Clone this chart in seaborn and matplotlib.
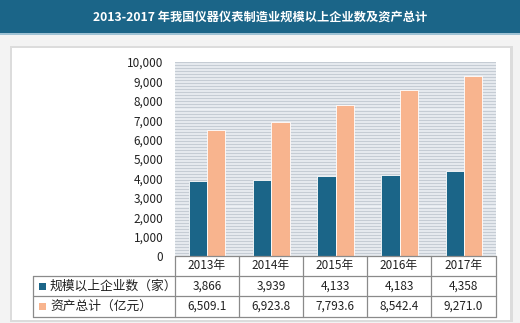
import matplotlib
matplotlib.use("Agg")
import matplotlib.pyplot as plt
import seaborn as sns
import pandas as pd
import numpy as np
from matplotlib.patches import Rectangle
from matplotlib.lines import Line2D

years = ["2013年", "2014年", "2015年", "2016年", "2017年"]
series_names = ["规模以上企业数（家）", "资产总计（亿元）"]
enterprises = [3866, 3939, 4133, 4183, 4358]
assets = [6509.1, 6923.8, 7793.6, 8542.4, 9271.0]
enterprise_labels = ["3,866", "3,939", "4,133", "4,183", "4,358"]
asset_labels = ["6,509.1", "6,923.8", "7,793.6", "8,542.4", "9,271.0"]
yticks = [0, 1000, 2000, 3000, 4000, 5000, 6000, 7000, 8000, 9000, 10000]
title = "2013-2017 年我国仪器仪表制造业规模以上企业数及资产总计"

colors = ["#1b6588", "#f8b48e"]

sns.set_theme(style="white")
plt.rcParams['font.family'] = ['Noto Sans CJK SC', 'DejaVu Sans']

W, H = 520, 323
fig = plt.figure(figsize=(W / 100, H / 100), dpi=100)
fig.patch.set_facecolor("#f3f3f3")

def fx(x):
    return x / W

def fy(y):
    return 1 - y / H

# title bar
fig.patches.append(Rectangle((0, fy(33)), 1, 33 / H, transform=fig.transFigure,
                             facecolor="#1b6588", edgecolor="none", zorder=0))
fig.patches.append(Rectangle((0, fy(35)), 1, 2 / H, transform=fig.transFigure,
                             facecolor="#9fc2d4", edgecolor="none", zorder=0))
fig.text(0.5, fy(17), title, color="white", fontsize=8.8, fontweight="bold",
         ha="center", va="center")

# panel with shadow
fig.patches.append(Rectangle((fx(10), fy(322)), fx(503), 276 / H, transform=fig.transFigure,
                             facecolor="#dcdcdc", edgecolor="none", zorder=0))
fig.patches.append(Rectangle((fx(12), fy(320)), fx(498), 272 / H, transform=fig.transFigure,
                             facecolor="white", edgecolor="none", zorder=0))

# axes
x0, x1, ytop, ybot = 175, 496, 62, 256
ax = fig.add_axes([fx(x0), fy(ybot), fx(x1 - x0), (ybot - ytop) / H])
ax.set_zorder(5)

df = pd.DataFrame({
    "year": years * 2,
    "series": [series_names[0]] * 5 + [series_names[1]] * 5,
    "value": enterprises + assets,
})
sns.barplot(data=df, x="year", y="value", hue="series", palette=colors,
            width=0.57, ax=ax, legend=False, saturation=1, zorder=3,
            edgecolor="white", linewidth=0.6)

ax.set_facecolor("#edf1f5")
for yv in np.arange(0, 10001, 10000 / 64):
    ax.axhline(yv, color="#c5ccd4", linewidth=1.0, zorder=1)
ax.set_ylim(0, 10000)
ax.set_xlim(-0.5, 4.5)
ax.set_yticks(yticks)
ax.set_yticklabels([f"{v:,}" for v in yticks], fontsize=8.5, color="#222222")
ax.tick_params(axis="y", length=0, pad=8.5)
ax.set_xticks([])
ax.set_xlabel("")
ax.set_ylabel("")
for s in ax.spines.values():
    s.set_visible(False)

# table
rows = [256, 276, 296, 317]
cols = [175, 239, 303, 367, 431, 496]
lc = "#8a8a8a"
def hline(y, xa, xb):
    fig.lines.append(Line2D([fx(xa), fx(xb)], [fy(y), fy(y)], transform=fig.transFigure,
                            color=lc, linewidth=0.9, zorder=6))
def vline(x, ya, yb):
    fig.lines.append(Line2D([fx(x), fx(x)], [fy(ya), fy(yb)], transform=fig.transFigure,
                            color=lc, linewidth=0.9, zorder=6))

hline(256, 175, 496)
hline(276, 33, 496)
hline(296, 33, 496)
hline(317, 33, 496)
vline(33, 276, 317)
for c in cols:
    vline(c, 256, 317)

for i, yl in enumerate(years):
    cx = (cols[i] + cols[i + 1]) / 2
    fig.text(fx(cx), fy(266), yl, fontsize=8.5, ha="center", va="center", color="#222222")
    fig.text(fx(cx), fy(286), enterprise_labels[i], fontsize=8.5, ha="center", va="center", color="#222222")
    fig.text(fx(cx), fy(306.5), asset_labels[i], fontsize=8.5, ha="center", va="center", color="#222222")

for j, (name, yc) in enumerate(zip(series_names, [286, 306.5])):
    fig.patches.append(Rectangle((fx(39), fy(yc + 3.5)), fx(7), 7 / H, transform=fig.transFigure,
                                 facecolor=colors[j], edgecolor="none", zorder=1))
    fig.text(fx(50), fy(yc), name, fontsize=9.2, ha="left", va="center", color="#222222")

fig.savefig("out.png", dpi=100, facecolor=fig.get_facecolor())
